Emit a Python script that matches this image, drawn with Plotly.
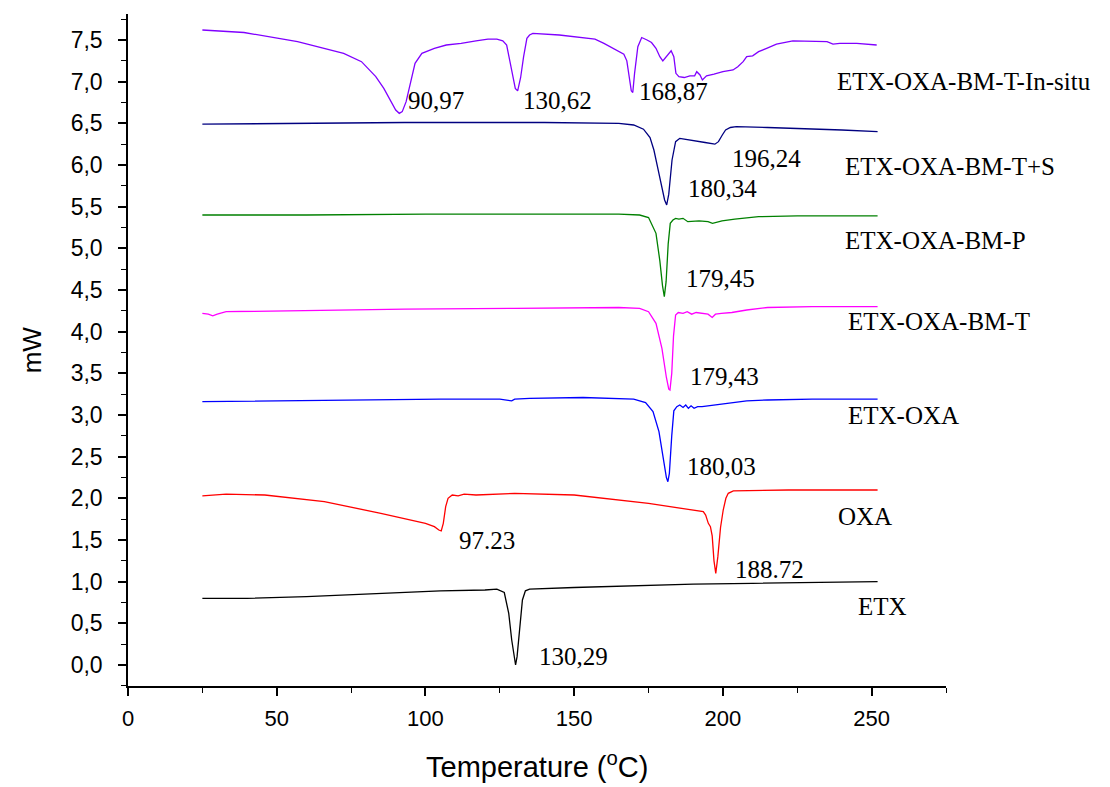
import plotly.graph_objects as go

# ---- data: (temperature °C, heat flow mW) ----
etx = [(25, 0.80), (40, 0.80), (60, 0.82), (85, 0.86), (105, 0.89), (120, 0.90), (124, 0.91),
       (126.5, 0.87), (128, 0.62), (129, 0.30), (129.8, 0.08), (130.3, 0.00), (130.8, 0.10),
       (131.6, 0.42), (132.6, 0.78), (133.6, 0.89), (135, 0.91), (150, 0.93), (170, 0.95),
       (190, 0.97), (210, 0.98), (230, 0.99), (252, 1.00)]

oxa = [(25, 2.03), (33, 2.05), (46, 2.04), (66, 1.96), (85, 1.82), (100, 1.70), (103, 1.66),
       (104.5, 1.62), (105.3, 1.61), (106, 1.70), (106.8, 1.90), (107.6, 2.00), (109, 2.04),
       (111, 2.03), (113, 2.05), (117, 2.04), (130, 2.06), (150, 2.04), (175, 1.94), (188, 1.87),
       (193.4, 1.84), (194.2, 1.80), (195.1, 1.70), (195.8, 1.66), (196.4, 1.55), (197.0, 1.25),
       (197.6, 1.10), (198.3, 1.30), (199.2, 1.65), (200.1, 1.86), (201.0, 2.00), (201.8, 2.06),
       (203.5, 2.09), (222, 2.10), (252, 2.10)]

etx_oxa = [(25, 3.16), (50, 3.17), (80, 3.18), (105, 3.19), (125, 3.19), (128, 3.18), (129, 3.17),
           (130, 3.19), (135, 3.20), (153, 3.21), (170, 3.19), (174, 3.15), (176.5, 3.04),
           (178.5, 2.80), (180, 2.45), (181, 2.25), (181.5, 2.20), (182, 2.30), (182.8, 2.75),
           (183.5, 3.05), (184.5, 3.10), (185.5, 3.12), (186.6, 3.09), (187.5, 3.12), (188.4, 3.08),
           (189.3, 3.11), (190.3, 3.08), (191.5, 3.10), (193, 3.10), (197, 3.12), (202, 3.14),
           (208, 3.17), (215, 3.18), (230, 3.19), (252, 3.19)]

bm_t = [(25, 4.22), (27, 4.21), (28.5, 4.19), (30, 4.21), (33, 4.24), (50, 4.25), (93, 4.27),
        (130, 4.28), (165, 4.29), (172, 4.28), (175, 4.24), (177.5, 4.10), (179.5, 3.80),
        (181, 3.45), (181.8, 3.31), (182.2, 3.30), (182.8, 3.50), (183.4, 3.95), (184.1, 4.20),
        (185, 4.23), (186.6, 4.22), (188, 4.24), (189.5, 4.21), (191, 4.23), (193, 4.22),
        (195, 4.21), (196.4, 4.17), (197.5, 4.21), (199.5, 4.22), (203, 4.23), (208, 4.26),
        (215, 4.29), (230, 4.30), (252, 4.30)]

bm_p = [(25, 5.40), (60, 5.40), (100, 5.41), (140, 5.41), (165, 5.41), (172, 5.40), (175, 5.37),
        (177.5, 5.18), (178.8, 4.85), (179.7, 4.55), (180.3, 4.42), (180.9, 4.60), (181.6, 5.05),
        (182.3, 5.30), (183.2, 5.34), (184.1, 5.36), (185.2, 5.35), (186.6, 5.36), (188.2, 5.32),
        (192, 5.33), (195, 5.32), (196.5, 5.30), (199.7, 5.33), (204, 5.35), (212, 5.38),
        (225, 5.39), (252, 5.39)]

bm_ts = [(25, 6.49), (60, 6.50), (93, 6.51), (140, 6.51), (165, 6.50), (170, 6.48), (173.3, 6.43),
         (175.5, 6.33), (176.8, 6.18), (178, 5.98), (179.3, 5.78), (180.4, 5.58), (181.1, 5.52),
         (181.8, 5.65), (182.9, 6.06), (184.1, 6.28), (185.5, 6.32), (187, 6.31), (190, 6.29),
         (194, 6.27), (197.3, 6.25), (198.5, 6.28), (199.8, 6.36), (200.9, 6.42), (202.5, 6.45),
         (204.5, 6.46), (215, 6.45), (226, 6.44), (240, 6.42), (252, 6.40)]

insitu = [(25, 7.62), (39, 7.59), (57, 7.48), (72.5, 7.34), (78.5, 7.24), (83.3, 7.06), (86, 6.92),
          (88.1, 6.78), (90, 6.66), (91.2, 6.62), (92.2, 6.64), (93.5, 6.76), (95, 7.00),
          (96.5, 7.22), (98.8, 7.34), (103, 7.40), (107, 7.44), (112, 7.46), (117, 7.49),
          (121, 7.51), (124, 7.51), (126, 7.49), (127.3, 7.44), (128.9, 7.14), (130.2, 6.92),
          (131, 6.89), (132, 7.05), (133, 7.30), (134.1, 7.52), (135, 7.56), (136.1, 7.58),
          (145, 7.56), (153, 7.53), (157, 7.51), (160, 7.46), (163, 7.40), (164.9, 7.36),
          (166.7, 7.33), (167.7, 7.25), (168.5, 7.05), (169.2, 6.89), (169.7, 6.87), (170.3, 7.10),
          (171.4, 7.42), (172.7, 7.53), (174.5, 7.50), (176, 7.47), (177.5, 7.40), (178.8, 7.30),
          (179.8, 7.25), (181.5, 7.32), (182.6, 7.37), (183.5, 7.30), (184.2, 7.10), (185.2, 7.06),
          (187, 7.05), (188.9, 7.07), (190.5, 7.07), (191.2, 7.12), (192.3, 7.08), (193.1, 7.02),
          (194.5, 7.07), (197, 7.09), (200, 7.12), (203.4, 7.14), (205, 7.18), (206.8, 7.24),
          (208, 7.30), (210, 7.31), (212, 7.36), (214.7, 7.40), (218, 7.45), (223.5, 7.49),
          (230.3, 7.48), (235, 7.48), (237, 7.45), (239.3, 7.46), (245, 7.46), (251.7, 7.44)]

series_names = ["ETX", "OXA", "ETX-OXA", "ETX-OXA-BM-T", "ETX-OXA-BM-P",
                "ETX-OXA-BM-T+S", "ETX-OXA-BM-T-In-situ"]
series_data = [etx, oxa, etx_oxa, bm_t, bm_p, bm_ts, insitu]
series_colors = ["#000000", "#FF0000", "#0000FF", "#FF00FF", "#008000", "#000080", "#8000FF"]

# peak labels (text, T, mW) and curve name labels (text, T, mW)
peak_labels = [("90,97", 93.4, 6.78), ("130,62", 132.1, 6.78), ("168,87", 171.1, 6.88),
               ("196,24", 202.4, 6.08), ("180,34", 187.6, 5.72), ("179,45", 186.9, 4.64),
               ("179,43", 188.2, 3.46), ("180,03", 187.2, 2.38), ("97.23", 110.6, 1.50),
               ("188.72", 203.4, 1.15), ("130,29", 137.5, 0.10)]
name_labels = [("ETX-OXA-BM-T-In-situ", 237.6, 7.00), ("ETX-OXA-BM-T+S", 240.3, 5.98),
               ("ETX-OXA-BM-P", 240.3, 5.09), ("ETX-OXA-BM-T", 241.3, 4.12),
               ("ETX-OXA", 241.3, 2.99), ("OXA", 238.0, 1.78), ("ETX", 244.7, 0.70)]

fig = go.Figure()
for name, data, color in zip(series_names, series_data, series_colors):
    xs = [p[0] for p in data]
    ys = [p[1] for p in data]
    fig.add_trace(go.Scatter(x=xs, y=ys, mode="lines", name=name,
                             line=dict(color=color, width=1.3), showlegend=False))

serif = "Liberation Serif, Times New Roman, serif"
for txt, xv, yv in peak_labels + name_labels:
    fig.add_annotation(x=xv, y=yv, text=txt, showarrow=False, xanchor="left", yanchor="middle",
                       font=dict(family=serif, size=25, color="black"))

sans = "Liberation Sans, Arial, sans-serif"
fig.add_annotation(xref="paper", yref="paper", x=0.5, y=-0.117, text="Temperature (<sup>o</sup>C)",
                   showarrow=False, xanchor="center", yanchor="middle",
                   font=dict(family=sans, size=29, color="black"))
fig.add_annotation(xref="paper", yref="paper", x=-0.117, y=0.5, text="mW", textangle=-90,
                   showarrow=False, xanchor="center", yanchor="middle",
                   font=dict(family=sans, size=26, color="black"))

fig.update_layout(
    width=1110, height=787,
    margin=dict(l=128, r=164, t=14, b=101, autoexpand=False),
    paper_bgcolor="white", plot_bgcolor="white",
    separators=",.",
    font=dict(family=sans, size=22, color="black"),
)
fig.update_xaxes(range=[0, 275], tickmode="array", tickvals=[0, 50, 100, 150, 200, 250],
                 showgrid=False, zeroline=False, showline=True, linecolor="black", linewidth=1.5,
                 ticks="outside", ticklen=8, tickwidth=1.5, tickcolor="black",
                 minor=dict(dtick=25, tick0=0, ticks="outside", ticklen=5, tickwidth=1.2, tickcolor="black"),
                 tickfont=dict(family=sans, size=22), ticklabelstandoff=4)
fig.update_yaxes(range=[-0.252, 7.812], dtick=0.5, tick0=0, tickformat=".1f",
                 showgrid=False, zeroline=False, showline=True, linecolor="black", linewidth=1.5,
                 ticks="outside", ticklen=8, tickwidth=1.5, tickcolor="black",
                 minor=dict(dtick=0.25, tick0=0, ticks="outside", ticklen=5, tickwidth=1.2, tickcolor="black"),
                 tickfont=dict(family=sans, size=23), ticklabelstandoff=11)

fig.write_html("out.html", config={"displayModeBar": False},
               post_script="document.body.style.margin='0';document.body.style.overflow='hidden';")
